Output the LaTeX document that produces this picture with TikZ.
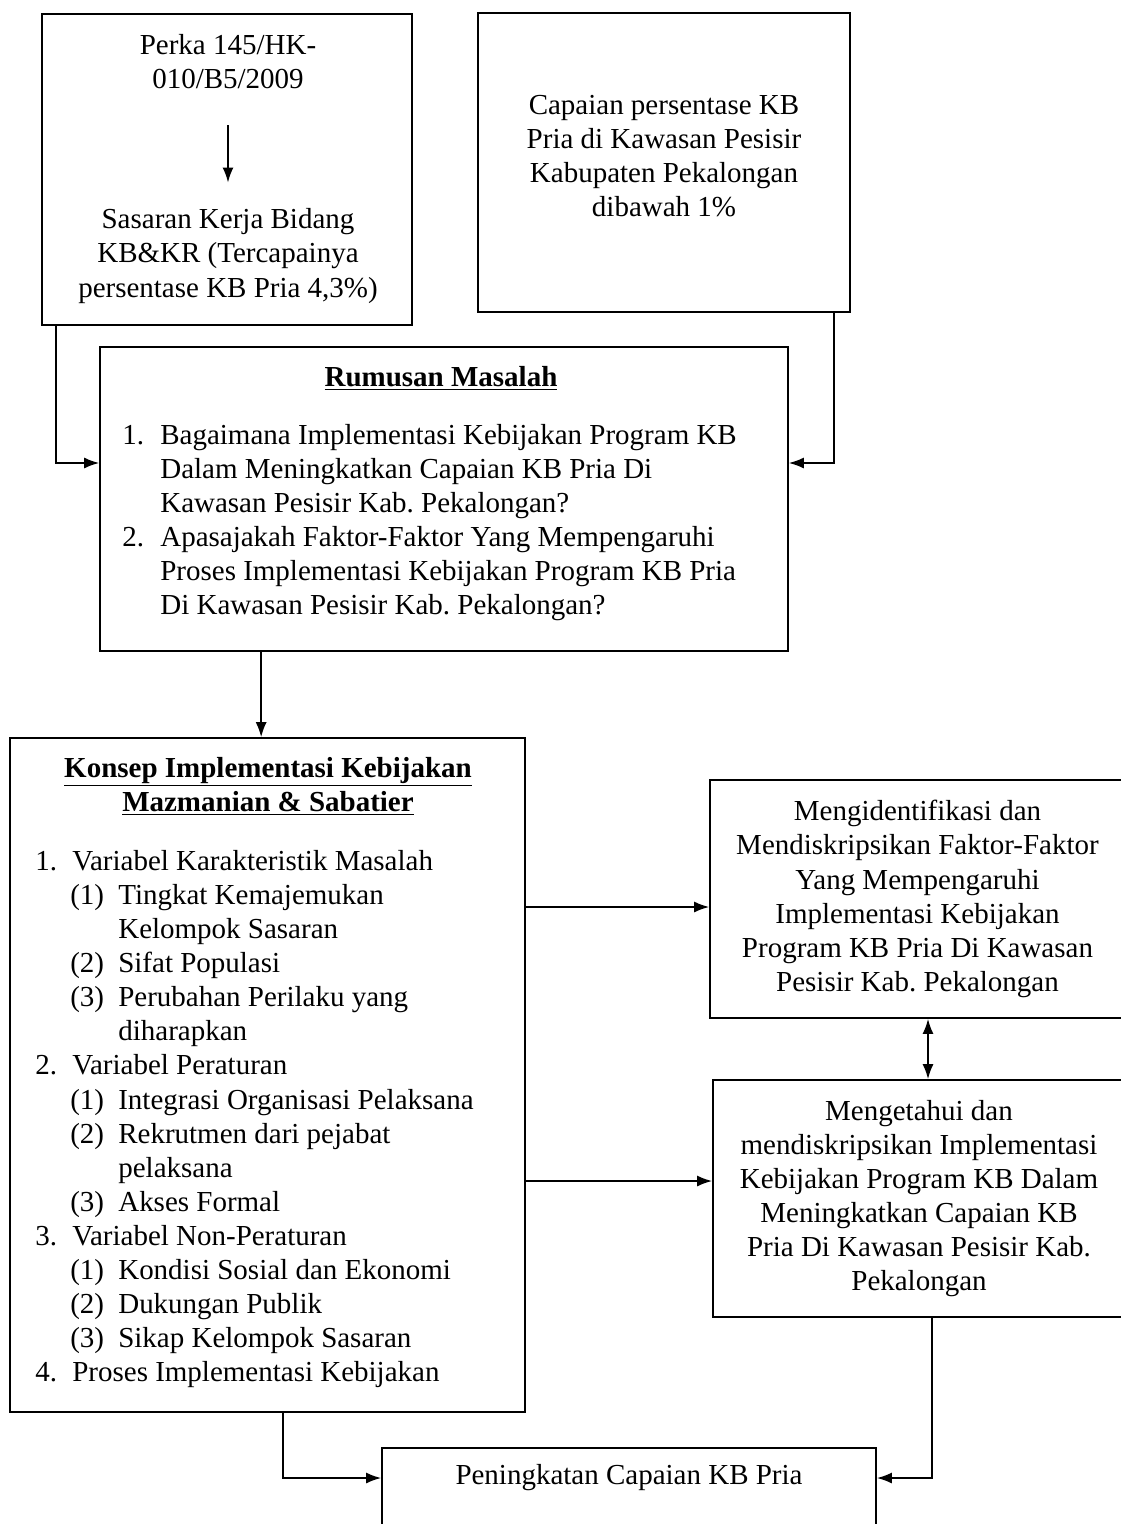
\documentclass[tikz,border=0pt]{standalone}
\usepackage{fontspec}
\setmainfont{Liberation Serif}
\usetikzlibrary{arrows.meta,positioning}

\newcommand{\butir}[1]{\makebox[0.74cm][l]{#1}}
\newcommand{\subbutir}[1]{\hspace*{0.7cm}\makebox[0.96cm][l]{#1}}

\tikzset{
  kotak/.style={draw, line width=1pt, inner sep=0pt},
  teks/.style={align=center, font=\fontsize{16.5}{19.4}\selectfont},
  daftar/.style={align=left, anchor=north west, inner sep=0pt, font=\fontsize{16.5}{19.4}\selectfont},
  panah/.style={line width=1pt, -{Latex[length=3mm,width=2.2mm]}},
}

\begin{document}
\frenchspacing
\begin{tikzpicture}[x=0.02cm, y=-0.02cm]
        \useasboundingbox (0,0) rectangle (1120,1524);

        % kotak atas
        \node[kotak, minimum width=7.4cm, minimum height=6.22cm] (perkaBox) at (227,169.5) {};
        \node[teks] (perka) at (228,62) {Perka 145/HK-\\010/B5/2009};
        \node[teks] (sasaran) at (228,256) {Sasaran Kerja Bidang\\KB\&KR (Tercapainya\\persentase KB Pria 4,3\%)};
        \node[kotak, minimum width=7.44cm, minimum height=5.98cm] (capaianBox) at (664,162.5) {};
        \node[teks] (capaian) at (664,156) {Capaian persentase KB\\Pria di Kawasan Pesisir\\Kabupaten Pekalongan\\dibawah 1\%};

        % rumusan masalah
        \node[kotak, minimum width=13.76cm, minimum height=6.08cm] (rumusan) at (444,499) {};
        \node[teks, font=\fontsize{16.5}{19.4}\selectfont\bfseries] (rumusanJudul) at (441,378) {\underline{Rumusan Masalah}};
        \node[daftar] (rumusanIsi) at (122,424) {%
          \makebox[0.76cm][l]{1.}Bagaimana Implementasi Kebijakan Program KB\\
          \hspace*{0.76cm}Dalam Meningkatkan Capaian KB Pria Di\\
          \hspace*{0.76cm}Kawasan Pesisir Kab. Pekalongan?\\
          \makebox[0.76cm][l]{2.}Apasajakah Faktor-Faktor Yang Mempengaruhi\\
          \hspace*{0.76cm}Proses Implementasi Kebijakan Program KB Pria\\
          \hspace*{0.76cm}Di Kawasan Pesisir Kab. Pekalongan?};

        % konsep
        \node[kotak, minimum width=10.3cm, minimum height=13.48cm] (konsep) at (267.5,1075) {};
        \node[teks, font=\fontsize{16.5}{19.4}\selectfont\bfseries] (konsepJudul) at (268,786) {\underline{Konsep Implementasi Kebijakan}\\\underline{Mazmanian \& Sabatier}};
        \node[daftar] (konsepIsi) at (35,850) {%
          \butir{1.}Variabel Karakteristik Masalah\\
          \subbutir{(1)}Tingkat Kemajemukan\\
          \hspace*{1.66cm}Kelompok Sasaran\\
          \subbutir{(2)}Sifat Populasi\\
          \subbutir{(3)}Perubahan Perilaku yang\\
          \hspace*{1.66cm}diharapkan\\
          \butir{2.}Variabel Peraturan\\
          \subbutir{(1)}Integrasi Organisasi Pelaksana\\
          \subbutir{(2)}Rekrutmen dari pejabat\\
          \hspace*{1.66cm}pelaksana\\
          \subbutir{(3)}Akses Formal\\
          \butir{3.}Variabel Non-Peraturan\\
          \subbutir{(1)}Kondisi Sosial dan Ekonomi\\
          \subbutir{(2)}Dukungan Publik\\
          \subbutir{(3)}Sikap Kelompok Sasaran\\
          \butir{4.}Proses Implementasi Kebijakan};

        % tujuan
        \node[kotak, teks, minimum width=8.3cm, minimum height=4.76cm] (identifikasi) at (917.5,899) {Mengidentifikasi dan\\Mendiskripsikan Faktor-Faktor\\Yang Mempengaruhi\\Implementasi Kebijakan\\Program KB Pria Di Kawasan\\Pesisir Kab. Pekalongan};
        \node[kotak, teks, minimum width=8.24cm, minimum height=4.74cm] (mengetahui) at (919,1198.5) {Mengetahui dan\\mendiskripsikan Implementasi\\Kebijakan Program KB Dalam\\Meningkatkan Capaian KB\\Pria Di Kawasan Pesisir Kab.\\Pekalongan};

        % hasil
        \node[kotak, minimum width=9.88cm, minimum height=2.9cm] (peningkatan) at (629,1520.5) {};
        \node[teks] (peningkatanTeks) at (629,1478) {Peningkatan Capaian KB Pria};

        % panah
        \coordinate (masuk) at (444,463);
        \coordinate (keIdentifikasi) at ([yshift=-0.16cm]identifikasi.west);
        \coordinate (keMengetahui) at ([yshift=0.35cm]mengetahui.west);
        \draw[panah] ([yshift=-0.6cm]perka.south) -- ([yshift=0.4cm]sasaran.north);
        \draw[panah] ([xshift=0.3cm]perkaBox.south west) |- (rumusan.west |- masuk);
        \draw[panah] ([xshift=-0.34cm]capaianBox.south east) |- (rumusan.east |- masuk);
        \draw[panah] ([xshift=3.24cm]rumusan.south west) -- ([xshift=3.24cm]rumusan.south west |- konsep.north);
        \draw[panah] (konsep.east |- keIdentifikasi) -- (keIdentifikasi);
        \draw[panah] (konsep.east |- keMengetahui) -- (keMengetahui);
        \draw[panah, {Latex[length=3mm,width=2.2mm]}-{Latex[length=3mm,width=2.2mm]}] ([xshift=0.21cm]identifikasi.south) -- ([xshift=0.21cm]identifikasi.south |- mengetahui.north);
        \draw[panah] ([xshift=0.31cm]konsep.south) |- (peningkatan.west |- peningkatanTeks);
        \draw[panah] ([xshift=0.26cm]mengetahui.south) |- (peningkatan.east |- peningkatanTeks);

\end{tikzpicture}
\end{document}
